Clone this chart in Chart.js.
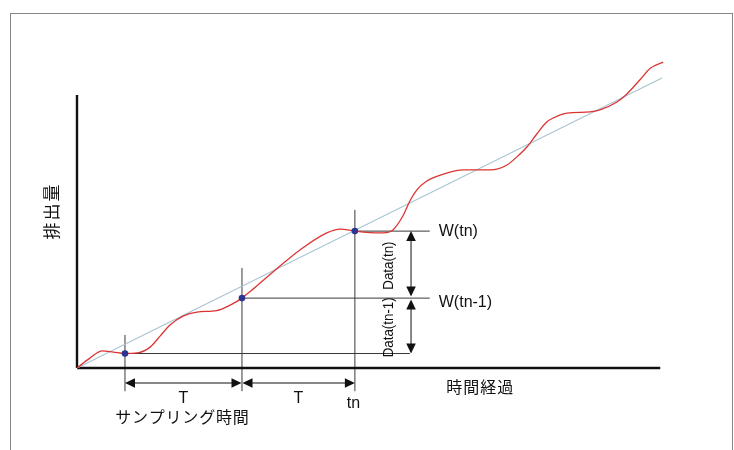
<!DOCTYPE html>
<html><head><meta charset="utf-8">
<script src="https://cdn.jsdelivr.net/npm/chart.js@4"></script>
<style>
html,body{margin:0;padding:0;background:#fff;}
#wrap{position:relative;width:734px;height:450px;overflow:hidden;background:#fff;}
#frame{position:absolute;left:10px;top:13px;width:723px;height:470px;border:1.5px solid #858585;box-sizing:border-box;}
canvas{position:absolute;left:0;top:0;}
</style></head>
<body><div id="wrap"><div id="frame"></div><canvas id="c" width="734" height="450" style="width:734px;height:450px"></canvas></div>
<script>
// ---- data (time units / amount units) ----
const curveT = [0, 2.2, 4.3, 6.2, 8.2, 10.3, 12.5, 14.2, 15.9, 18.1, 20.5, 23.9, 26.2, 28.2, 29.6, 31.3, 33.5, 38.1, 42.7, 45.0, 47.5, 50.1, 52.3, 54.0, 55.7, 56.9, 58.1, 59.8, 63.2, 66.0, 68.9, 71.8, 73.5, 75.2, 76.9, 78.6, 80.3, 81.4, 83.8, 87.7, 89.4, 92.3, 94.0, 96.2, 98.0, 100.2];
const curveW = [0, 3.4, 5.9, 5.5, 5.0, 5.2, 7.2, 11.0, 14.8, 17.9, 19.3, 19.8, 21.7, 24.1, 26.4, 29.3, 33.1, 40.7, 46.6, 47.9, 47.2, 46.7, 46.6, 47.6, 52.4, 57.6, 61.4, 64.5, 67.2, 68.3, 68.3, 68.6, 70.0, 72.8, 76.2, 80.7, 84.8, 86.2, 87.9, 88.3, 89.0, 91.7, 94.5, 99.3, 103.4, 105.5];
const trendT = [0, 100];
const trendW = [0, 100];
const sampleT = [8.2, 28.2, 47.5];
const sampleW = [5.0, 24.1, 47.2];
const guideTop = [11.4, 34.5, 54.5];
const guideBottom = -8;
const guideEnd = [56.9, 60.3, 60.3];
const arrowT = 57.1;
const axisXEnd = 99.7;
const axisYEnd = 94.1;
const yLabel = '排出量';
const xLabel = '時間経過';
const periodLabel = 'T';
const tnLabel = 'tn';
const samplingLabel = 'サンプリング時間';
const wLabels = ['W(tn)', 'W(tn-1)'];
const dataLabels = ['Data(tn)', 'Data(tn-1)'];

const toXY = (xs, ys) => xs.map((x, i) => ({x, y: ys[i]}));
const seg = (p, q, color, width) => ({type: 'line', data: [p, q], borderColor: color, borderWidth: width, pointRadius: 0, fill: false, clip: false});

const datasets = [
  {type: 'scatter', data: toXY(sampleT, sampleW), pointRadius: 3.3, pointHoverRadius: 3.3, backgroundColor: '#2b3590', borderWidth: 0, clip: false},
  {type: 'line', data: toXY(curveT, curveW), borderColor: '#dc3434', borderWidth: 1.3, pointRadius: 0, fill: false, cubicInterpolationMode: 'monotone', clip: false},
  {type: 'line', data: toXY(trendT, trendW), borderColor: '#a9c6d4', borderWidth: 1.2, pointRadius: 0, fill: false, clip: false},
  seg({x: 0, y: 0}, {x: axisXEnd, y: 0}, '#111', 2.6),
  seg({x: 0, y: 0}, {x: 0, y: axisYEnd}, '#111', 2.4)
];
sampleT.forEach((t, i) => {
  datasets.push(seg({x: t, y: guideBottom}, {x: t, y: guideTop[i]}, '#3a3a3a', 1));
  datasets.push(seg({x: t, y: sampleW[i]}, {x: guideEnd[i], y: sampleW[i]}, '#3a3a3a', 1));
});

const LATIN = "'Liberation Sans', Arial, sans-serif";
const CJK = "'Noto Sans CJK JP', sans-serif";

const annot = {
  id: 'annot',
  afterDatasetsDraw(chart) {
    const ctx = chart.ctx;
    const X = v => chart.scales.x.getPixelForValue(v);
    const Y = v => chart.scales.y.getPixelForValue(v);
    ctx.save();
    ctx.strokeStyle = '#111'; ctx.fillStyle = '#111'; ctx.lineWidth = 1;

    const head = (x, y, dx, dy) => {
      const L = 10, H = 4.8;
      const bx = x - dx * L, by = y - dy * L;
      ctx.beginPath();
      ctx.moveTo(x, y);
      ctx.lineTo(bx - dy * H, by + dx * H);
      ctx.lineTo(bx + dy * H, by - dx * H);
      ctx.closePath(); ctx.fill();
    };
    const arrow = (x1, y1, x2, y2) => {
      const len = Math.hypot(x2 - x1, y2 - y1), dx = (x2 - x1) / len, dy = (y2 - y1) / len;
      ctx.beginPath(); ctx.moveTo(x1 + dx * 5, y1 + dy * 5); ctx.lineTo(x2 - dx * 5, y2 - dy * 5); ctx.stroke();
      head(x2, y2, dx, dy); head(x1, y1, -dx, -dy);
    };
    const yA = Y(0) + 15;
    arrow(X(sampleT[0]), yA, X(sampleT[1]) - 0.5, yA);
    arrow(X(sampleT[1]) + 0.5, yA, X(sampleT[2]), yA);
    const xA = X(arrowT);
    arrow(xA, Y(sampleW[2]), xA, Y(sampleW[1]) - 1.5);
    arrow(xA, Y(sampleW[1]) + 1.5, xA, Y(sampleW[0]));

    const txt = (s, x, y, font, o = {}) => {
      const align = o.align || 'left', rot = o.rot || 0, sp = o.spacing || 0, sx = o.sx || 1;
      ctx.save();
      ctx.translate(x, y); ctx.rotate(rot); ctx.scale(sx, 1);
      ctx.font = font; ctx.textBaseline = o.base || 'alphabetic'; ctx.textAlign = 'left';
      const chars = [...s];
      const widths = chars.map(c => ctx.measureText(c).width);
      const total = sp ? widths.reduce((a, b) => a + b, 0) + sp * (chars.length - 1) : ctx.measureText(s).width;
      let cx = align === 'center' ? -total / 2 : align === 'right' ? -total : 0;
      if (sp) { chars.forEach((c, i) => { ctx.fillText(c, cx, 0); cx += widths[i] + sp; }); }
      else ctx.fillText(s, cx, 0);
      ctx.restore();
    };

    // W labels
    txt(wLabels[0], X(guideEnd[1]) + 9, Y(sampleW[2]) + 5, '16px ' + LATIN);
    txt(wLabels[1], X(guideEnd[1]) + 9, Y(sampleW[1]) + 9, '16px ' + LATIN);
    // Data labels (rotated)
    txt(dataLabels[0], xA - 22, (Y(sampleW[2]) + Y(sampleW[1])) / 2 + 1, '15px ' + LATIN, {align: 'center', base: 'middle', rot: -Math.PI / 2, sx: 0.89});
    txt(dataLabels[1], xA - 22, (Y(sampleW[1]) + Y(sampleW[0])) / 2 + 1.5, '15px ' + LATIN, {align: 'center', base: 'middle', rot: -Math.PI / 2, sx: 0.89});
    // T labels
    txt(periodLabel, (X(sampleT[0]) + X(sampleT[1])) / 2, Y(0) + 35, '16px ' + LATIN, {align: 'center'});
    txt(periodLabel, (X(sampleT[1]) + X(sampleT[2])) / 2, Y(0) + 35, '16px ' + LATIN, {align: 'center'});
    txt(tnLabel, X(sampleT[2]) - 1.5, Y(0) + 39.5, '16px ' + LATIN, {align: 'center'});
    // Japanese labels
    txt(samplingLabel, X(sampleT[0]) + 57, Y(0) + 49, '16px ' + CJK, {align: 'center', base: 'middle', spacing: 0.8});
    txt(xLabel, X(63.1), Y(0) + 18.5, '16px ' + CJK, {base: 'middle', spacing: 1});
    txt(yLabel, X(0) - 25, Y(53.8), '17px ' + CJK, {align: 'center', base: 'middle', rot: -Math.PI / 2, spacing: 2});
    ctx.restore();
  }
};

new Chart(document.getElementById('c'), {
  type: 'line',
  data: {datasets},
  options: {
    responsive: false,
    animation: false,
    events: [],
    layout: {padding: {left: 77, right: 72, top: 78, bottom: 82}},
    plugins: {legend: {display: false}, tooltip: {enabled: false}},
    scales: {
      x: {type: 'linear', min: 0, max: 100, display: false},
      y: {type: 'linear', min: 0, max: 100, display: false}
    }
  },
  plugins: [annot]
});
</script>
</body></html>
